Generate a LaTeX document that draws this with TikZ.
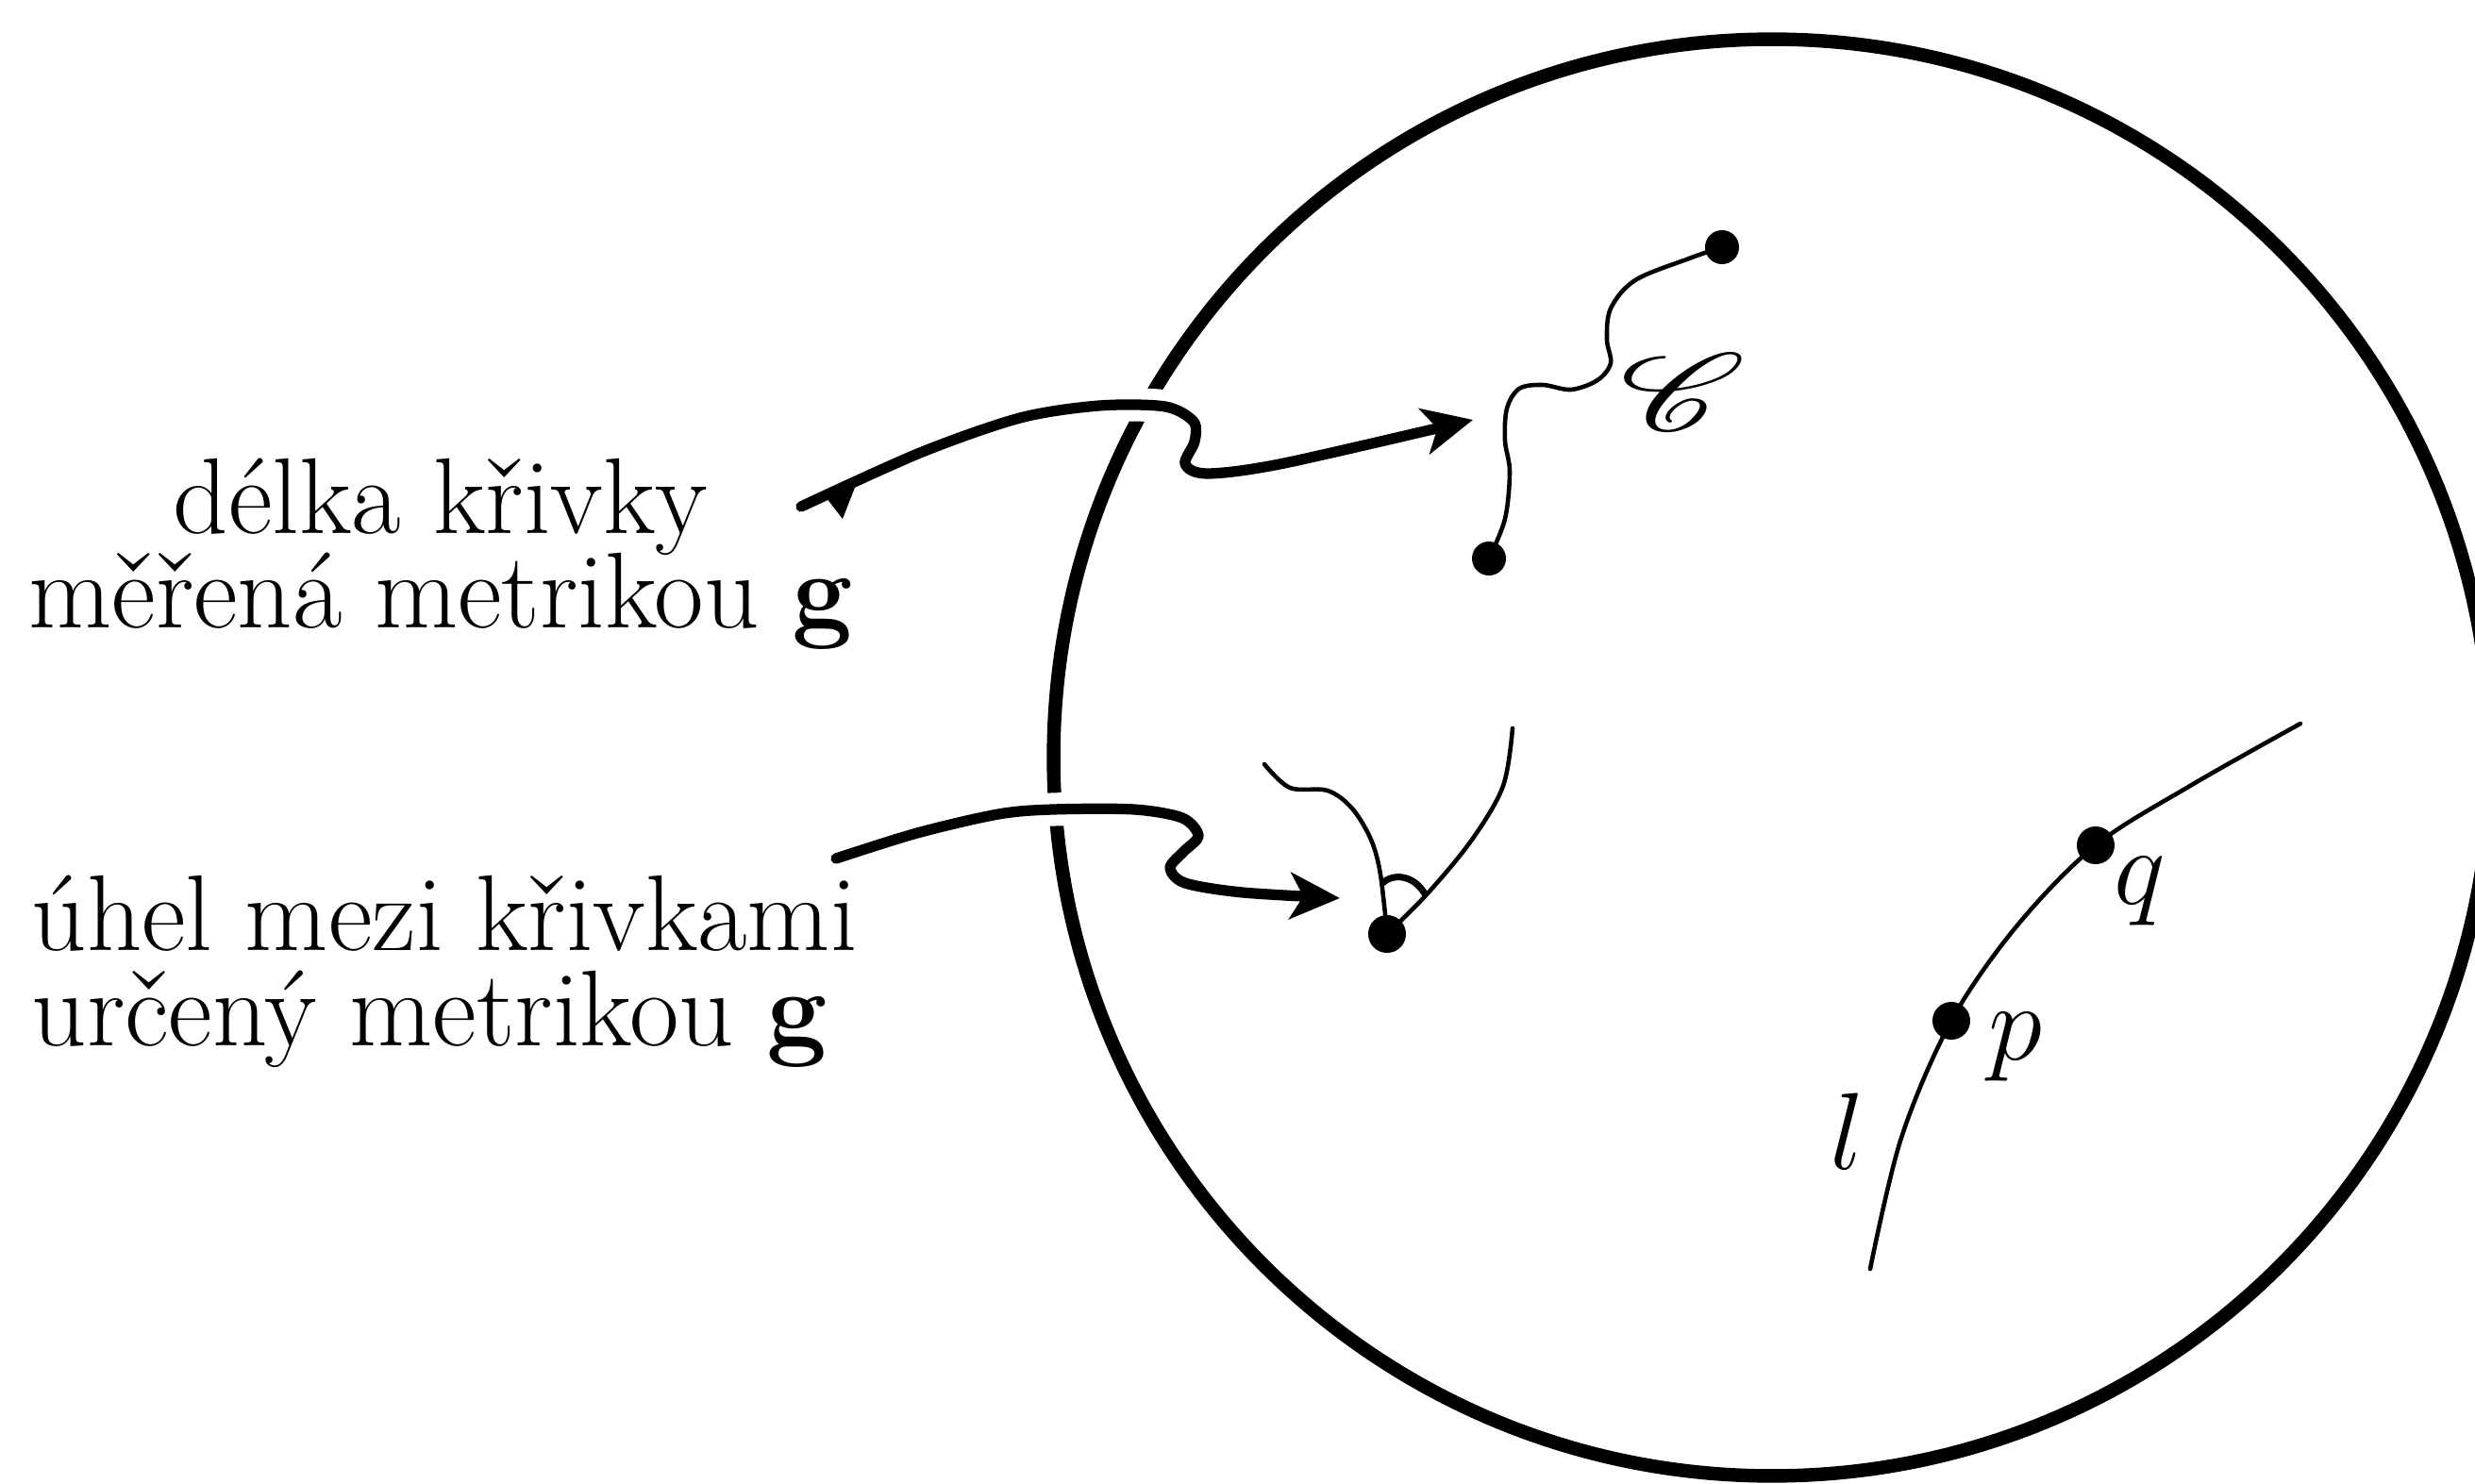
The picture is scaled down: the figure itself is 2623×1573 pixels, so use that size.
\RequirePackage{fix-cm}
\documentclass[tikz,border=0pt]{standalone}
\usepackage{mathrsfs}
\usetikzlibrary{arrows.meta}
\begin{document}
\begin{tikzpicture}[x=0.01cm,y=-0.01cm,
  dot/.style={circle,fill=black,inner sep=0pt,minimum size=0.4cm},
  sdot/.style={dot,minimum size=0.36cm},
  thincurve/.style={line width=1.3pt,line cap=round},
  bigarrow/.style={line width=3.2pt,line cap=round,line join=round,
    -{Stealth[length=15pt,width=14pt,inset=4pt]},
    preaction={draw=white,line width=10pt,-}},
  txt/.style={font={\fontsize{32.5}{28.6}\selectfont\lineskiplimit=-100pt},inner sep=0pt},
  lbl/.style={font=\fontsize{33}{36}\selectfont,inner sep=0pt,anchor=base},
]
\useasboundingbox (0,0) rectangle (2623,1573);
\fill[white] (0,0) rectangle (2623,1573);
% manifold
\draw[line width=4.1pt] (1878,803) circle[radius=7.61cm];

% texts
\node[txt,align=center,anchor=base] (t1) at (467,666) {délka křivky\\měřená metrikou \textbf{g}};
\node[txt,align=left,anchor=base west] (t2) at (33,1108) {úhel mezi křivkami\\určený metrikou \textbf{g}};

% points
\node[sdot] (cA) at (1578,592) {};
\node[sdot] (cB) at (1825,262) {};
\node[dot] (ang) at (1470,990) {};
\node[dot] (p) at (2068,1082) {};
\node[dot] (q) at (2221,896) {};

% arrows
\coordinate (a1s) at (849,537);
\coordinate (a1e) at (1561,445);
\coordinate (a2s) at (886,910);
\coordinate (a2e) at (1420,952);
\draw[bigarrow] plot[smooth,tension=0.5] coordinates {(a1s) (975,480) (1081,443) (1165,430) (1235,431) (1265,447) (1266,468) (1256,492) (1280,502) (1361,491) (a1e)};
\fill (876,528) -- (909,509) -- (893,550) -- cycle;
\draw[bigarrow] plot[smooth,tension=0.5] coordinates {(a2s) (972,883) (1058,863) (1116,858) (1202,858) (1253,867) (1270,886) (1254,903) (1240,920) (1256,936) (1317,946) (a2e)};

% curve C
\draw[thincurve] plot[smooth,tension=0.55] coordinates {(cA.center) (1595,550) (1600,500) (1595,467) (1597,433) (1610,412) (1635,408) (1665,413) (1693,403) (1707,385) (1703,360) (1707,327) (1733,297) (1790,274) (cB.center)};
\node[font=\fontsize{60}{66}\selectfont,inner sep=0pt,scale=1.33,xscale=1.36] (lC) at (1784,416) {$\mathscr{C}$};

% angle
\coordinate (u1) at (1340,810);
\coordinate (u2) at (1603,772);
\draw[thincurve] plot[smooth,tension=0.55] coordinates {(u1) (1367,835) (1407,838) (1433,857) (1453,890) (1463,927) (ang.center)};
\draw[thincurve] plot[smooth,tension=0.55] coordinates {(u2) (1593,833) (1560,890) (1513,947) (ang.center)};
\draw[line width=2pt] (1465,936) .. controls (1476,926) and (1498,926) .. (1511,949);

% line l
\coordinate (l1) at (1982,1345);
\coordinate (l2) at (2438,767);
\draw[thincurve] plot[smooth,tension=0.55] coordinates {(l1) (2015,1206) (p.center) (2137,982) (q.center) (2321,833) (l2)};
\node[lbl] (ll) at (1958,1239) {$l$};
\node[lbl] (lp) at (2136,1123) {$p$};
\node[lbl] (lq) at (2268,958) {$q$};
\end{tikzpicture}
\end{document}
